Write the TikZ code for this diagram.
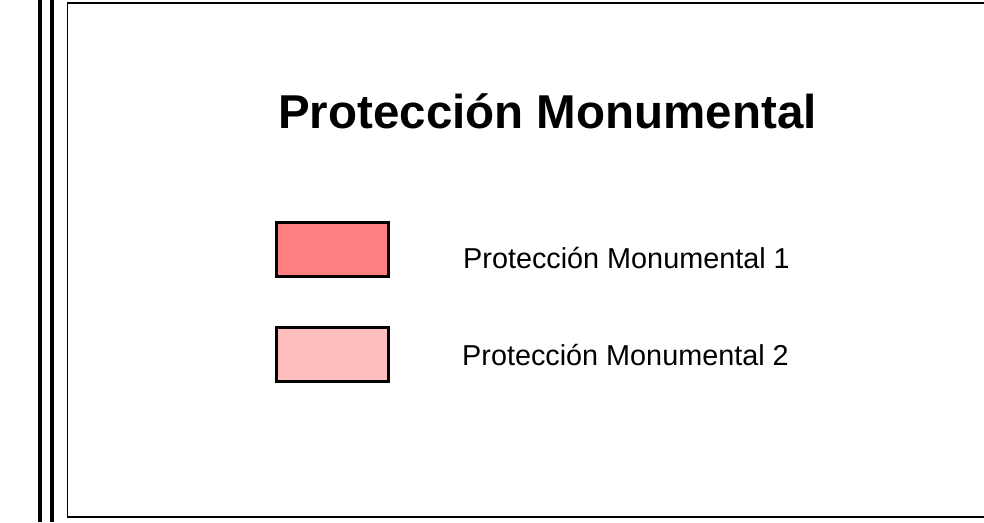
\documentclass[tikz,border=0pt]{standalone}
\usepackage{fontspec}
\setmainfont{Liberation Sans}
\usepackage{xcolor}
\usetikzlibrary{positioning}
\definecolor{protuno}{RGB}{255, 128, 128}
\definecolor{protdos}{RGB}{255, 190, 190}

\tikzset{
  legendbox/.style={draw=black, line width=3pt, minimum width=112pt, minimum height=54pt, inner sep=0pt},
  legendtext/.style={anchor=base west, inner sep=0pt, font=\fontsize{28.8}{34}\selectfont},
  frameline/.style={line width=1.6pt}
}

\begin{document}
\begin{tikzpicture}[x=1pt, y=1pt]
      \useasboundingbox (0,0) rectangle (984,-522);

      % double rule on the left
      \draw[line width=4pt] (40,0) -- (40,-522);
      \draw[line width=3.7pt] (52,0) -- (52,-522);

      % open frame
      \draw[frameline] (984,-3) -- (67.5,-3) -- (67.5,-517) -- (984,-517);

      \node[anchor=base, inner sep=0pt, font=\fontsize{47.5}{56}\selectfont\bfseries] (title) at (547.5,-128) {Protección Monumental};

      \node[legendbox, fill=protuno] (boxuno) at (332,-249) {};
      \node[legendtext] (textuno) at (463,-268) {Protección Monumental 1};

      \node[legendbox, fill=protdos] (boxdos) at (332,-354) {};
      \node[legendtext] (textdos) at (462,-365) {Protección Monumental 2};

    \end{tikzpicture}
\end{document}
